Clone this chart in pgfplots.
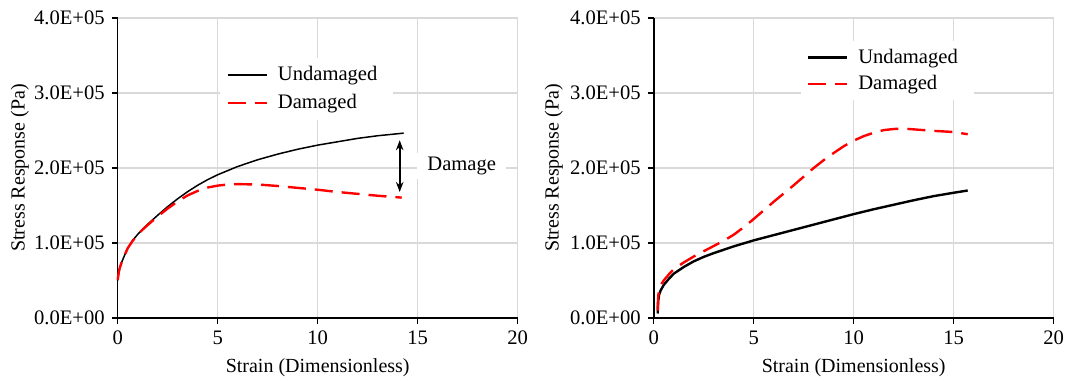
\documentclass[border=0pt]{standalone}
\usepackage{fontspec}
\setmainfont{Liberation Serif}
\usepackage{pgfplots}
\pgfplotsset{compat=1.18}
\usetikzlibrary{arrows.meta}
\newcommand\fs{\fontsize{10.3}{12.4}\selectfont}
\definecolor{dred}{RGB}{255,0,0}
\pgfplotsset{
  myax/.style={
    scale only axis, width=200pt, height=150pt,
    xmin=0, xmax=20, ymin=0, ymax=400000,
    axis lines=left, axis line style={-, black, line width=0.8pt},
    xtick={0,5,10,15,20},
    ytick={0,100000,200000,300000,400000},
    yticklabels={0.0E+00,1.0E+05,2.0E+05,3.0E+05,4.0E+05},
    scaled y ticks=false,
    grid=major, major grid style={draw=black!15, line width=0.6pt},
    tick align=outside, major tick length=3pt,
    tick style={black, line width=0.6pt},
    /pgf/number format/assume math mode=true,
    ticklabel style={font=\fs},
    label style={font=\fs},
    xlabel={Strain (Dimensionless)},
    ylabel={Stress Response (Pa)},
    every axis x label/.style={at={(axis description cs:0.5,-0.167)}, anchor=center},
    legend cell align=left,
    legend image code/.code={\draw[##1] (0pt,0pt) -- (19.5pt,0pt);},
    clip=false,
  },
  dmg/.style={dred, line width=1.2pt, dash pattern=on 9pt off 4.5pt},
}
\begin{document}
\begin{tikzpicture}
\useasboundingbox (-58.85pt,-31pt) rectangle (476.15pt,159pt);
\begin{axis}[myax,
  every axis y label/.style={at={(axis description cs:-0.2445,0.5)}, rotate=90, anchor=center},
  legend style={at={(rel axis cs:0.256,0.867)}, anchor=north west, draw=none, fill=white, font=\fs, row sep=1.5pt,
    nodes={inner xsep=5pt}},
]
\addplot[black, line width=0.75pt] coordinates {
(0,50000) (0.05,60000) (0.1,66500) (0.2,74500) (0.35,84000) (0.5,93000)
(0.75,103500) (1,111500) (1.25,118500) (1.5,125000) (2,137000)
(2.5,148500) (3,159000) (3.5,168500) (4,177000) (4.5,184500) (5,191000)
(6,202000) (7,211000) (8,218500) (9,225000) (10,230500) (11,235000)
(12,239500) (13,243000) (14.3,246500)};
\addlegendentry{Undamaged}
\addplot[dmg] coordinates {
(0,51000) (0.05,60500) (0.1,66500) (0.2,74500) (0.35,84000) (0.5,93000)
(0.75,103000) (1,111000) (1.25,118000) (1.5,124000) (2,135500)
(2.5,146000) (3,155500) (3.5,163500) (4,169500) (4.5,174000) (5,176500)
(5.5,178000) (6,178500) (7,178000) (8,176000) (9,173500) (10,171000)
(11,168000) (12,165500) (13,163000) (14.2,160500)};
\addlegendentry{Damaged}
\draw[{Stealth[length=5pt]}-{Stealth[length=5pt]}, line width=0.8pt] (axis cs:14.1,237000) -- (axis cs:14.1,168000);
\node[fill=white, font=\fs, inner xsep=5pt, inner ysep=2pt] at (axis cs:17.2,203000) {Damage};
\end{axis}
\begin{axis}[myax, at={(268pt,0pt)},
  every axis y label/.style={at={(axis description cs:-0.25,0.5)}, rotate=90, anchor=center},
  legend style={at={(rel axis cs:0.367,0.925)}, anchor=north west, draw=none, fill=white, font=\fs, row sep=0.5pt,
    nodes={inner xsep=5pt}},
]
\addplot[black, line width=1.2pt] coordinates {
(0.2,6000) (0.21,15000) (0.23,24000) (0.27,31000) (0.35,37000) (0.5,44000)
(0.75,52000) (1,59000) (1.5,68000) (2,75500) (2.5,81500) (3,86500)
(4,95500) (5,103500) (6,110500) (7,117500) (8,124500) (9,131500)
(10,138500) (11,145000) (12,151000) (13,157000) (14,162500) (15,167000)
(15.7,170000)};
\addlegendentry{Undamaged}
\addplot[dmg] coordinates {
(0.2,10000) (0.21,20000) (0.23,30000) (0.27,38000) (0.35,44000) (0.5,50000)
(0.75,58000) (1,65000) (1.5,74000) (2,82000) (2.5,89000) (3,96000)
(3.5,103000) (4,111000) (4.5,121000) (5,132000) (5.5,143500) (6,155000)
(6.5,166000) (7,177000) (7.5,188500) (8,200000) (8.5,210500) (9,220000)
(9.5,229000) (10,236500) (10.5,242500) (11,247000) (11.5,250500) (12,252000)
(12.5,252500) (13,251500) (14,249500) (15,248000) (15.7,245000)};
\addlegendentry{Damaged}
\end{axis}
\end{tikzpicture}
\end{document}
